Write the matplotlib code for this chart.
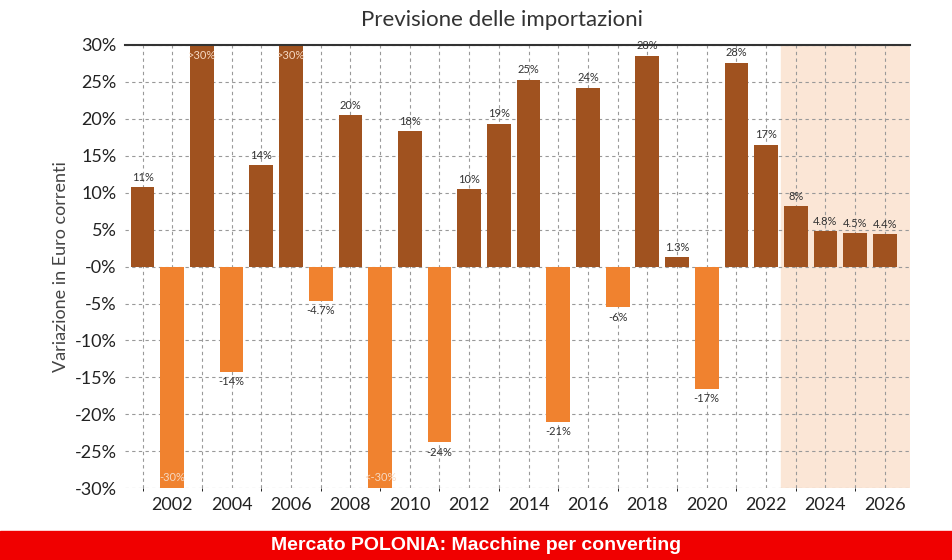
import matplotlib
matplotlib.use('Agg')
import matplotlib.pyplot as plt
import numpy as np

years = list(range(2001, 2027))
values = [10.7, -30, 30, -14.2, 13.7, 30, -4.6, 20.5, -30, 18.3, -23.8, 10.5, 19.3, 25.3,
          -21, 24.2, -5.5, 28.5, 1.3, -16.5, 27.6, 16.5, 8.2, 4.8, 4.5, 4.4]
labels = ["11%", "-30%", ">30%", "-14%", "14%", ">30%", "-4.7%", "20%", "<-30%", "18%", "-24%",
          "10%", "19%", "25%", "-21%", "24%", "-6%", "28%", "1.3%", "-17%", "28%", "17%",
          "8%", "4.8%", "4.5%", "4.4%"]
tick_years = list(range(2002, 2027, 2))
yticks = list(range(-30, 31, 5))

POS, NEG = '#a0521f', '#f0822f'
plt.rcParams['font.family'] = 'Lato'

fig = plt.figure(figsize=(9.52, 5.6), dpi=100)
ax = fig.add_axes([0.131, 0.128, 0.825, 0.792])
ax.set_xlim(2000.4, 2026.85)
ax.set_ylim(-30, 30)
ax.axvspan(2022.5, 2026.85, color='#fbe6d6', zorder=0)
ax.set_xticks(years, minor=True)
ax.grid(True, which='both', axis='x', ls=(0, (3, 3)), color='#999', lw=0.8)
ax.grid(True, which='major', axis='y', ls=(0, (3, 3)), color='#999', lw=0.8)
ax.set_axisbelow(True)

for yr, v, lab in zip(years, values, labels):
    ax.bar(yr, v, width=0.8, color=POS if v > 0 else NEG, zorder=2)
    if abs(v) >= 30:
        ax.text(yr, v - np.sign(v) * 1.5, lab, ha='center', va='center', color='#f6d9c3', fontsize=8, zorder=3)
    elif v > 0:
        ax.text(yr, v + 0.6, lab, ha='center', va='bottom', fontsize=8, color='#333')
    else:
        ax.text(yr, v - 0.6, lab, ha='center', va='top', fontsize=8, color='#333')

ax.set_xticks(tick_years)
ax.set_xticklabels([str(y) for y in tick_years], fontsize=13, color='#222')
ax.set_yticks(yticks)
ax.set_yticklabels([f"{y}%" if y != 0 else "-0%" for y in yticks], fontsize=13, color='#222')
ax.tick_params(length=0, pad=6)
for s in ['left', 'right', 'bottom']:
    ax.spines[s].set_visible(False)
ax.spines['top'].set_color('#333')
ax.spines['top'].set_linewidth(1.5)
ax.set_ylabel('Variazione in Euro correnti', fontsize=13, color='#444')
fig.text(0.527, 0.965, 'Previsione delle importazioni', ha='center', va='center', fontsize=16, color='#333')

fig.patches.append(plt.Rectangle((0, 0), 1, 0.052, transform=fig.transFigure, color='#f00000', zorder=5))
fig.text(0.5, 0.026, 'Mercato POLONIA: Macchine per converting', ha='center', va='center',
         fontsize=14, fontweight='bold', color='white', family='Liberation Sans', zorder=6)

fig.savefig('out.png', dpi=100, facecolor='white')
